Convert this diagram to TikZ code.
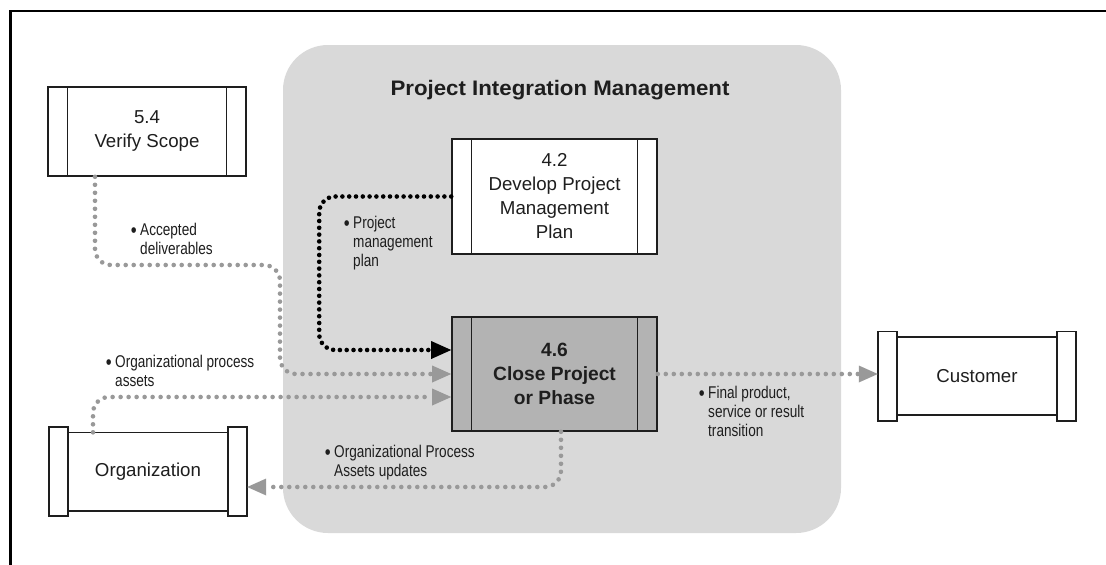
\documentclass[tikz,border=0pt]{standalone}
\usepackage{fontspec}
\setmainfont{Liberation Sans}
\newfontfamily\cond[FakeStretch=0.8]{Liberation Sans}
\newfontfamily\wide[FakeStretch=1.06]{Liberation Sans}
\usetikzlibrary{arrows.meta}
\definecolor{area}{HTML}{D9D9D9}
\definecolor{dotgrey}{HTML}{999999}
\definecolor{dark}{HTML}{1E1E1E}
\definecolor{procgrey}{HTML}{B3B3B3}
\newcommand\drawentity[1]{%
  \draw[dark,line width=1.6pt] ([yshift=-5.5pt]#1.north west) rectangle ([yshift=5.5pt]#1.south east);
  \draw[dark,line width=1.6pt,fill=white] (#1.north west) rectangle ([xshift=19pt]#1.south west);
  \draw[dark,line width=1.6pt,fill=white] (#1.north east) rectangle ([xshift=-19pt]#1.south east);
}
\newcommand\lbullet{\llap{\raisebox{-1.5pt}{\fontsize{21}{0}\selectfont•}\hspace{3.5pt}}}
\begin{document}
\begin{tikzpicture}[x=1pt,y=-1pt,
  proc/.style={draw=dark, line width=1.6pt, fill=white, inner sep=0pt, align=center,
    font=\fontsize{18.7}{24}\selectfont, text=dark,
    path picture={\draw[dark,line width=1.6pt]
      ([xshift=19.5pt]path picture bounding box.north west) -- ([xshift=19.5pt]path picture bounding box.south west)
      ([xshift=-19.5pt]path picture bounding box.north east) -- ([xshift=-19.5pt]path picture bounding box.south east);}},
  ent/.style={fill=white, minimum width=198pt, minimum height=89pt, inner sep=0pt,
    font=\fontsize{18.7}{24}\selectfont, text=dark},
  lbl/.style={anchor=north west, inner sep=0pt, align=left, font=\cond\fontsize{17}{18.8}\selectfont, text=dark},
  gdot/.style={draw=dotgrey, line width=4.6pt, line cap=round, dash pattern=on 0pt off 8pt, rounded corners=16pt},
  bdot/.style={draw=black, line width=4.6pt, line cap=round, dash pattern=on 0pt off 6.8pt, rounded corners=16pt},
  gtip/.style={-{Triangle[length=19pt,width=17pt,line width=0pt,fill=dotgrey]}},
  btip/.style={-{Triangle[length=20pt,width=18pt,line width=0pt,fill=black]}},
]
\useasboundingbox (0,0) rectangle (1106,565);
\fill[white] (0,0) rectangle (1106,565);
\draw[line width=2.5pt] (10.5,570) -- (10.5,11) -- (1110,11);

\node[fill=area, rounded corners=45pt, minimum width=558pt, minimum height=488pt, inner sep=0pt] (pim) at (562,289) {};
\node[font=\wide\bfseries\fontsize{21}{24}\selectfont, text=dark] (title) at (560,90) {Project Integration Management};

\node[proc, minimum width=198pt, minimum height=89pt] (vs) at (147,131.5) {5.4\\Verify Scope};
\node[proc, minimum width=205pt, minimum height=115pt] (p42) at (554.5,196.5) {4.2\\Develop Project\\Management\\Plan};
\node[proc, fill=procgrey, minimum width=205pt, minimum height=114pt, font=\bfseries\fontsize{19.2}{24}\selectfont] (p46) at (554.5,374) {4.6\\Close Project\\or Phase};

\node[ent] (cust) at (977,376) {Customer};
\drawentity{cust}
\node[ent] (org) at (148,471.5) {Organization};
\drawentity{org}

% connectors
\draw[bdot, btip] (p42.west) -- ++(-132,0) |- ([yshift=24pt]p46.west);
\draw[gdot, gtip] ([xshift=-52pt]vs.south) |- (280,265) |- (p46.west);
\draw[gdot, gtip] ([xshift=-55pt,yshift=-5.5pt]org.north) |- ([yshift=-23pt]p46.west);
\draw[gdot, gtip] ([xshift=6.5pt]p46.south) |- ([yshift=-15.5pt]org.east);
\draw[gdot, gtip] (p46.east) -- (p46.east -| cust.west);

% labels
\node[lbl] (l1) at (140,223) {\lbullet Accepted\\deliverables};
\node[lbl] (l2) at (353,216) {\lbullet Project\\management\\plan};
\node[lbl] (l3) at (115,355) {\lbullet Organizational process\\assets};
\node[lbl] (l4) at (334,445) {\lbullet Organizational Process\\Assets updates};
\node[lbl] (l5) at (708,386) {\lbullet Final product,\\service or result\\transition};
\end{tikzpicture}
\end{document}
